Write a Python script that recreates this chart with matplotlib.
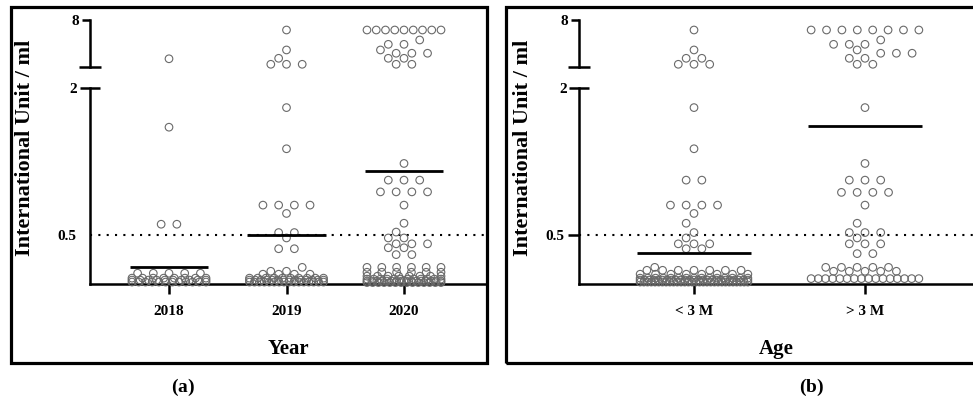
import matplotlib
matplotlib.use('Agg')
import matplotlib.pyplot as plt
import numpy as np
from matplotlib.patches import Rectangle

plt.rcParams['font.family'] = ['Liberation Serif', 'DejaVu Serif']
plt.rcParams['font.weight'] = 'bold'
plt.rcParams['axes.labelweight'] = 'bold'
plt.rcParams['mathtext.fontset'] = 'custom'
plt.rcParams['mathtext.rm'] = 'Liberation Serif'
plt.rcParams['mathtext.bf'] = 'Liberation Serif:bold'

# ---- data (IU/ml); values above 2 go to the upper (broken) segment
years = ['2018', '2019', '2020']
y2018 = [4.7, 1.6, 0.61, 0.61] + [0.11] * 5 + [0.06] * 8 + [0.04] * 10 + [0.02] * 12
y2019 = ([7.15, 5.45, 4.74, 4.23, 4.23, 4.23, 1.8, 1.38] + [0.805] * 4 + [0.72, 0.525, 0.525, 0.47, 0.36, 0.36, 0.17, 0.13, 0.13]
         + [0.1] * 4 + [0.06] * 10 + [0.04] * 14 + [0.02] * 16)
y2020 = ([7.15] * 9 + [6.3, 5.93, 5.93, 5.45, 5.17, 5.17, 5.17, 4.74, 4.74, 4.23, 4.23]
         + [1.23] + [1.06] * 3 + [0.94] * 4 + [0.805, 0.62, 0.53, 0.47, 0.47, 0.41, 0.41, 0.41, 0.37, 0.37, 0.30, 0.30]
         + [0.17] * 6 + [0.12] * 6 + [0.08] * 8 + [0.05] * 12 + [0.03] * 16 + [0.015] * 14)
medians_year = [0.17, 0.505, 1.157]

ages = ['< 3 M', '> 3 M']
y_lt3 = ([7.15, 5.45, 4.74, 4.74, 4.23, 4.23, 4.23, 1.8, 1.38, 1.06, 1.06] + [0.805] * 4
         + [0.72, 0.62, 0.525, 0.47, 0.41, 0.41, 0.41, 0.36, 0.36, 0.17]
         + [0.14] * 7 + [0.1] * 8 + [0.06] * 15 + [0.04] * 25 + [0.02] * 30)
y_gt3 = ([7.15] * 8 + [6.3, 5.93, 5.93, 5.93, 5.45, 5.17, 5.17, 5.17, 4.74, 4.74, 4.23, 4.23]
         + [1.8, 1.23] + [1.06] * 3 + [0.935] * 4 + [0.805, 0.62, 0.525, 0.525, 0.525, 0.47, 0.41, 0.41, 0.41, 0.31, 0.31]
         + [0.17] * 5 + [0.13] * 5 + [0.055] * 16)
medians_age = [0.316, 1.615]

BREAK = 2.0
TOP = (4, 8)
EDGE = '#6a6a6a'
GAP_PX = 15.7   # horizontal spacing of neighbouring dots
HIT_PX = 9.5    # dots closer than this collide
WIDTH = 0.63    # max spread, in category units


def swarm(vals, lo, hi, i):
    # place equal values as a row, slide the row sideways to dodge dots already placed
    vals = np.asarray(vals, dtype=float)
    ax_of = lambda v: lo if v <= BREAK else hi
    unit = lo.transData.transform((1, 0))[0] - lo.transData.transform((0, 0))[0]
    maxw = WIDTH * unit
    offs = np.zeros(len(vals))
    placed = []
    for v in np.unique(vals):
        idx = np.where(vals == v)[0]
        n = len(idx)
        yp = ax_of(v).transData.transform((i, v))[1]
        if (n - 1) * GAP_PX > maxw:
            xs = (np.arange(n) - (n - 1) / 2) * (maxw / (n - 1))
        else:
            base = (np.arange(n) - (n - 1) / 2) * GAP_PX
            room = (maxw - (n - 1) * GAP_PX) / 2
            shifts = [0.0]
            k = 1
            while k * GAP_PX / 2 <= room + 1e-6:
                shifts += [-k * GAP_PX / 2, k * GAP_PX / 2]
                k += 1
            best, best_d = 0.0, -1
            for s in shifts:
                d = min((np.hypot(px - (b + s), py - yp) for b in base for px, py in placed), default=1e9)
                if d >= HIT_PX:
                    best = s
                    break
                if d > best_d:
                    best, best_d = s, d
            xs = base + best
        offs[idx] = xs / unit
        placed += [(x, yp) for x in xs]
    return i + offs


def panel(fig, left, right, groups, labels, medians, xlim, xlabel, tick05):
    lo = fig.add_axes([left, 0.2864, right - left, 0.4925])
    hi = fig.add_axes([left, 0.8317, right - left, 0.118])
    lo.set_ylim(0, BREAK)
    hi.set_ylim(*TOP)
    for ax in (lo, hi):
        ax.set_xlim(*xlim)
        for s in ('top', 'right'):
            ax.spines[s].set_visible(False)
        ax.spines['left'].set_linewidth(1.8)
    hi.spines['bottom'].set_visible(False)
    lo.spines['bottom'].set_linewidth(1.8)

    for i, vals in enumerate(groups):
        vals = np.asarray(vals)
        x = swarm(vals, lo, hi, i)
        m = vals <= BREAK
        lo.scatter(x[m], vals[m], s=30, facecolors='none', edgecolors=EDGE, linewidths=0.8, clip_on=False, zorder=3)
        hi.scatter(x[~m], vals[~m], s=30, facecolors='none', edgecolors=EDGE, linewidths=0.8, clip_on=False, zorder=3)
        lo.hlines(medians[i], i - 1 / 3, i + 1 / 3, color='black', lw=2, zorder=4)
    lo.axhline(0.5, color='black', lw=1.5, ls=(0, (1, 3)), zorder=2)

    lo.set_yticks([BREAK], labels=['2'])
    lo.set_yticks([0.5], labels=['0.5'], minor=True)
    lo.tick_params(axis='y', which='major', direction='inout', length=14, width=1.8, labelsize=11, pad=2)
    lo.tick_params(axis='y', which='minor', direction='out', length=tick05, width=1.8, labelsize=11,
                   pad=10 - tick05 * 0.9)
    lo.set_xticks(range(len(labels)), labels=labels)
    lo.tick_params(axis='x', direction='out', length=7, width=1.8, labelsize=11, pad=8)
    lo.set_xlabel(xlabel, fontsize=15, labelpad=15)

    hi.set_xticks([])
    hi.set_yticks([8], labels=['8'])
    hi.set_yticks([TOP[0]], minor=True)
    hi.tick_params(axis='y', which='major', direction='out', length=6, width=1.8, labelsize=11, pad=2)
    hi.tick_params(axis='y', which='minor', direction='inout', length=16, width=1.8)
    return lo, hi


fig = plt.figure(figsize=(9.73, 3.98), dpi=100)

panel(fig, 90 / 973, 487 / 973, [y2018, y2019, y2020], years, medians_year,
      (-79 / 117.5, 2 + 83 / 117.5), 'Year', 0)
panel(fig, 579 / 973, 1.0, [y_lt3, y_gt3], ages, medians_age,
      (-115 / 171, 1 + 108 / 171), 'Age', 8)

# panel frames
fig.add_artist(Rectangle((11 / 973, 1 - 363 / 398), 476 / 973, 356 / 398, transform=fig.transFigure,
                         fill=False, lw=2.3, ec='black'))
fig.add_artist(Rectangle((506 / 973, 1 - 363 / 398), 470 / 973, 356 / 398, transform=fig.transFigure,
                         fill=False, lw=2.3, ec='black'))

for xc in (25 / 973, 523 / 973):
    fig.text(xc, 1 - 148 / 398, 'International Unit / ml', rotation=90, ha='center', va='center', fontsize=16)

fig.text(183 / 973, 1 - 387 / 398, r'$\mathrm{(}\mathbf{a}\mathrm{)}$', ha='center', va='center', fontsize=14)
fig.text(812 / 973, 1 - 387 / 398, r'$\mathrm{(}\mathbf{b}\mathrm{)}$', ha='center', va='center', fontsize=14)

fig.savefig('out.png', dpi=100)
